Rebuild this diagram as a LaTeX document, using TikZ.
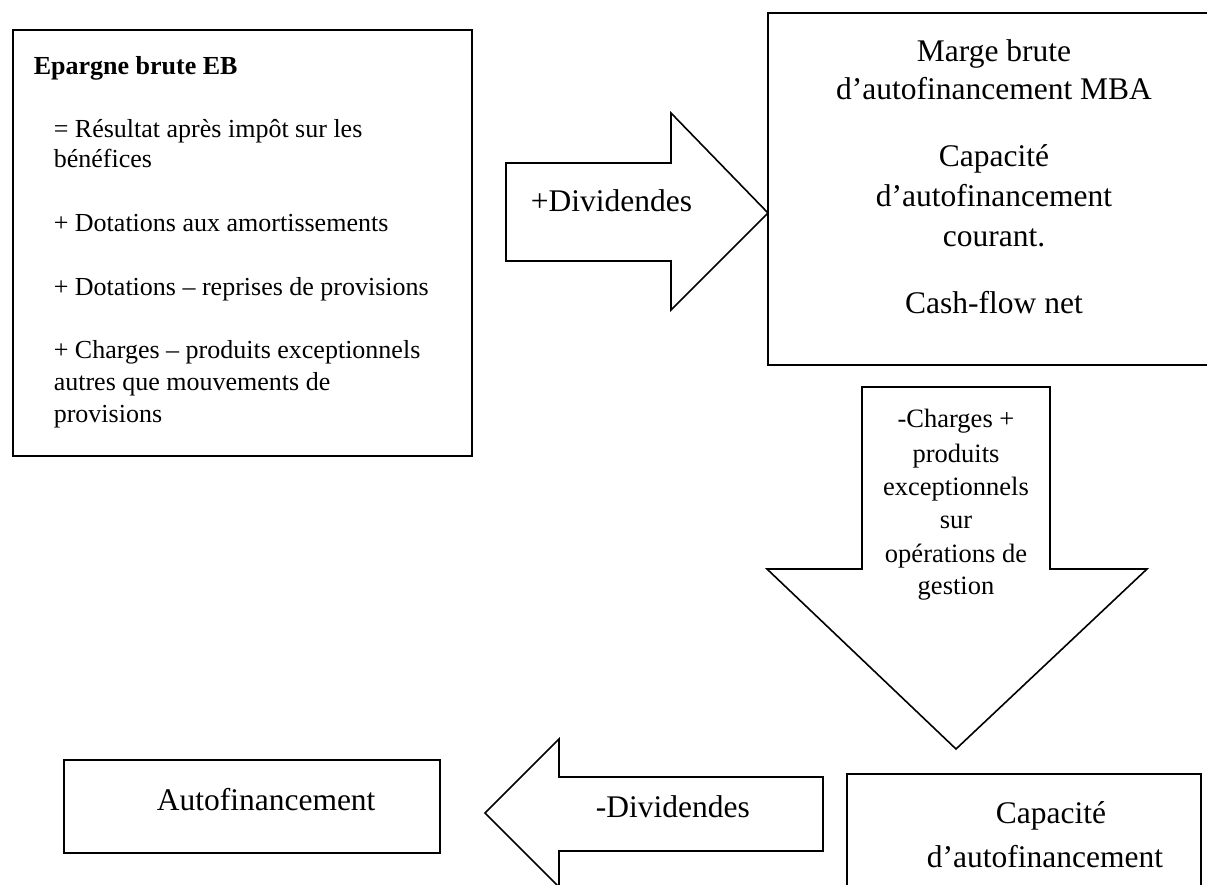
\documentclass[tikz,border=0pt]{standalone}
\usepackage{fontspec}
\setmainfont{Liberation Serif}
\begin{document}
\begin{tikzpicture}[x=1pt,y=-1pt,line width=1.6pt,
  box/.style={draw=black,rectangle,inner sep=0pt,anchor=north west},
  txt/.style={inner sep=0pt,font=\fontsize{26}{30}\selectfont},
  big/.style={inner sep=0pt,font=\fontsize{31.5}{38}\selectfont},
  mid/.style={inner sep=0pt,font=\fontsize{26.5}{32}\selectfont},
  blockarrow/.style={draw=black,line join=miter,fill=white}]
\useasboundingbox (0,0) rectangle (1207,885);
\clip (0,0) rectangle (1207,885);
\fill[white] (0,0) rectangle (1207,885);

% Left box: Epargne brute
\node[box,minimum width=459pt,minimum height=426pt] (eb) at (12,29) {};
\node[txt,anchor=base west,font=\fontsize{26}{30}\selectfont\bfseries] (ebt) at (33,75) {Epargne brute EB};
\node[txt,anchor=base west] (eb1) at (53,138) {= Résultat après impôt sur les};
\node[txt,anchor=base west] (eb1b) at (53,168) {bénéfices};
\node[txt,anchor=base west] (eb2) at (53,232) {+ Dotations aux amortissements};
\node[txt,anchor=base west] (eb3) at (53,295) {+ Dotations – reprises de provisions};
\node[txt,anchor=base west] (eb4) at (53,358) {+ Charges – produits exceptionnels};
\node[txt,anchor=base west] (eb4b) at (53,390) {autres que mouvements de};
\node[txt,anchor=base west] (eb4c) at (53,422) {provisions};

% Right arrow +Dividendes
\draw[blockarrow] (506,163) coordinate (ra1) -- (671,163) -- (671,113) -- (768,213) coordinate (ratip) -- (671,310) -- (671,261) -- (506,261) -- cycle;
\node[big,anchor=base west] (plusdiv) at (530,212) {+Dividendes};

% Top right box: MBA
\node[box,minimum width=454pt,minimum height=352pt] (mba) at (767,12) {};
\node[big,anchor=base] (m1) at (994,62) {Marge brute};
\node[big,anchor=base] (m2) at (994,100) {d’autofinancement MBA};
\node[big,anchor=base] (m3) at (994,167) {Capacité};
\node[big,anchor=base] (m4) at (994,207) {d’autofinancement};
\node[big,anchor=base] (m5) at (994,247) {courant.};
\node[big,anchor=base] (m6) at (994,313) {Cash-flow net};

% Down arrow
\draw[blockarrow] (862,387) -- (1050,387) -- (1050,569) -- (1147,569) -- (956,749) coordinate (datip) -- (767,569) -- (862,569) -- cycle;
\node[mid,anchor=base] (d1) at (956,427) {-Charges +};
\node[mid,anchor=base] (d2) at (956,462) {produits};
\node[mid,anchor=base] (d3) at (956,495) {exceptionnels};
\node[mid,anchor=base] (d4) at (956,528) {sur};
\node[mid,anchor=base] (d5) at (956,562) {opérations de};
\node[mid,anchor=base] (d6) at (956,594) {gestion};

% Bottom right box: CAF
\node[box,minimum width=354pt,minimum height=140pt] (caf) at (846,773) {};
\node[big,anchor=base] (c1) at (1051,823) {Capacité};
\node[big,anchor=base] (c2) at (1045,867) {d’autofinancement};

% Left arrow -Dividendes
\draw[blockarrow] (823,777) -- (559,777) -- (559,739) -- (485,813) coordinate (latip) -- (559,887) -- (559,851) -- (823,851) -- cycle;
\node[big,anchor=base west] (mindiv) at (595,817) {-Dividendes};

% Bottom left box: Autofinancement
\node[box,minimum width=376pt,minimum height=93pt] (af) at (63,759) {};
\node[big,anchor=base west] (aft) at (156,810) {Autofinancement};
\end{tikzpicture}
\end{document}
